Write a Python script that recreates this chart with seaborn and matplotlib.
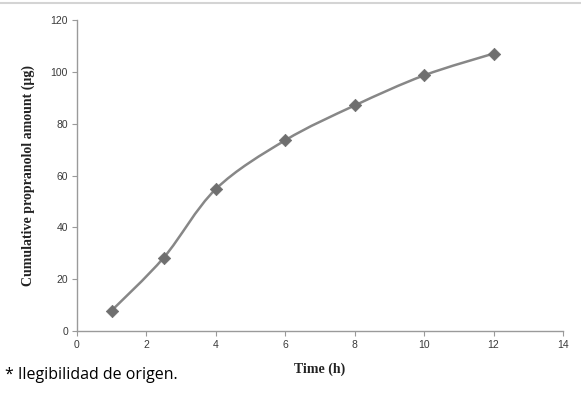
import numpy as np
import pandas as pd
import matplotlib
matplotlib.use("Agg")
import matplotlib.pyplot as plt
from matplotlib.path import Path
from matplotlib.patches import PathPatch
from matplotlib.lines import Line2D
import seaborn as sns

# Data
time_h = [1, 2.5, 4, 6, 8, 10, 12]
amount_ug = [8.0, 28.4, 54.8, 73.6, 87.0, 98.6, 107.0]
x_ticks = [0, 2, 4, 6, 8, 10, 12, 14]
y_ticks = [0, 20, 40, 60, 80, 100, 120]

sns.set_theme(style="white")
plt.rcParams['font.family'] = ['Liberation Sans', 'DejaVu Sans']

fig = plt.figure(figsize=(5.81, 3.97), dpi=100)
ax = fig.add_axes([0.1325, 0.1655, 0.8365, 0.7846])

df = pd.DataFrame({"Time (h)": time_h, "Amount": amount_ug})

line_col = "#878787"
mark_col = "#6f6f6f"

# Smoothed (Excel-style) curve through the data points
xs = np.asarray(time_h, float)
ys = np.asarray(amount_ug, float)
verts = [(xs[0], ys[0])]
codes = [Path.MOVETO]
n = len(xs)
for i in range(n - 1):
    p0 = np.array([xs[max(i - 1, 0)], ys[max(i - 1, 0)]])
    p1 = np.array([xs[i], ys[i]])
    p2 = np.array([xs[i + 1], ys[i + 1]])
    p3 = np.array([xs[min(i + 2, n - 1)], ys[min(i + 2, n - 1)]])
    c1 = p1 + (p2 - p0) / 6.0
    c2 = p2 - (p3 - p1) / 6.0
    verts += [tuple(c1), tuple(c2), tuple(p2)]
    codes += [Path.CURVE4] * 3
ax.add_patch(PathPatch(Path(verts, codes), fill=False, edgecolor=line_col,
                       lw=1.8, zorder=2))

sns.scatterplot(data=df, x="Time (h)", y="Amount", marker="D", s=40,
                color=mark_col, edgecolor=mark_col, linewidth=0.5, ax=ax,
                zorder=3)

ax.set_xlim(0, 14)
ax.set_ylim(0, 120)
ax.set_xticks(x_ticks)
ax.set_yticks(y_ticks)
ax.tick_params(axis='both', which='both', labelsize=7.5, labelcolor="#3a3a3a",
               length=3.5, width=0.8, color="#9a9a9a", direction='out',
               left=True, bottom=True, pad=3)

for s in ["top", "right"]:
    ax.spines[s].set_visible(False)
for s in ["left", "bottom"]:
    ax.spines[s].set_color("#9a9a9a")
    ax.spines[s].set_linewidth(1.0)

ax.set_xlabel("Time (h)", fontsize=10, fontweight="bold", family="Liberation Serif",
              color="#222222", labelpad=9)
ax.set_ylabel("Cumulative propranolol amount (µg)", fontsize=10, fontweight="bold",
              family="Liberation Serif", color="#222222", labelpad=11)

# thin gray rule at the top of the image
fig.add_artist(Line2D([0, 1], [0.993, 0.993], transform=fig.transFigure,
                      color="#d4d4d4", lw=1.5))

fig.text(0.008, 18 / 397, "* Ilegibilidad de origen.", fontsize=11.5,
         family="Open Sans", color="black", ha="left", va="baseline")

fig.savefig("out.png", dpi=100)
